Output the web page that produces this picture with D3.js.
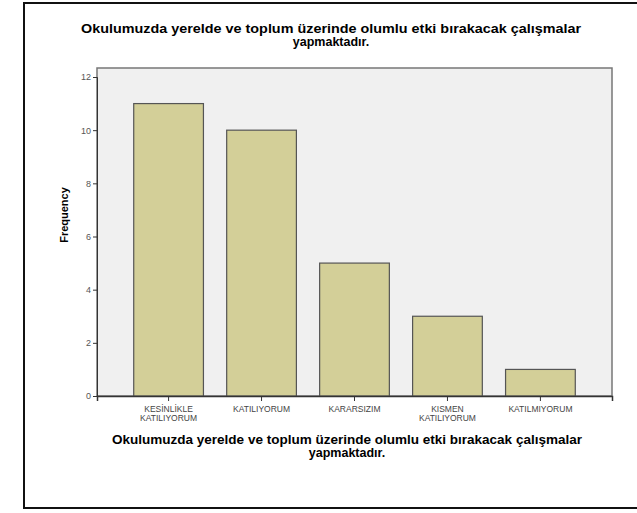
<html>
<head>
<meta charset="utf-8">
<script src="https://d3js.org/d3.v7.min.js"></script>
<style>
  body { margin: 0; background: white; font-family: "Liberation Sans", Arial, sans-serif; }
</style>
</head>
<body>
<script>
var categories = ["KESİNLİKLE KATILIYORUM", "KATILIYORUM", "KARARSIZIM", "KISMEN KATILIYORUM", "KATILMIYORUM"];
var catLines = [["KESİNLİKLE", "KATILIYORUM"], ["KATILIYORUM"], ["KARARSIZIM"], ["KISMEN", "KATILIYORUM"], ["KATILMIYORUM"]];
var frequencies = [11, 10, 5, 3, 1];
var yTicks = [0, 2, 4, 6, 8, 10, 12];
var titleLines = ["Okulumuzda yerelde ve toplum üzerinde olumlu etki bırakacak çalışmalar", "yapmaktadır."];

var width = 637, height = 513;
// plot box (note: "top" is reserved on window, so use plotTop)
var plotLeft = 97, plotRight = 612, plotTop = 68, plotBottom = 396;

var svg = d3.select("body").append("svg")
  .attr("width", width)
  .attr("height", height);

// outer frame
svg.append("rect")
  .attr("x", 24).attr("y", 3)
  .attr("width", 640).attr("height", 505)
  .attr("fill", "white")
  .attr("stroke", "#111")
  .attr("stroke-width", 2);

var x = d3.scaleBand()
  .domain(categories)
  .range([plotLeft, plotRight])
  .paddingInner(0.25)
  .paddingOuter(0.395);

var y = d3.scaleLinear()
  .domain([0, 12])
  .range([plotBottom, 77]);

// plot background
svg.append("rect")
  .attr("x", plotLeft).attr("y", plotTop)
  .attr("width", plotRight - plotLeft).attr("height", plotBottom - plotTop)
  .attr("fill", "#f0f0f0")
  .attr("stroke", "#777")
  .attr("stroke-width", 1.5);

svg.selectAll(".bar")
  .data(frequencies)
  .enter()
  .append("rect")
  .attr("class", "bar")
  .attr("x", function(d, i) { return x(categories[i]); })
  .attr("y", function(d) { return y(d); })
  .attr("width", x.bandwidth())
  .attr("height", function(d) { return y(0) - y(d); })
  .attr("fill", "#d3cf98")
  .attr("stroke", "#555")
  .attr("stroke-width", 1.2);

// y axis
var yAxis = svg.append("g")
  .attr("transform", "translate(" + plotLeft + ",0)")
  .call(d3.axisLeft(y).tickValues(yTicks).tickSize(4).tickPadding(2));
yAxis.select(".domain").attr("stroke", "#333");
yAxis.selectAll(".tick line").attr("stroke", "#333");
yAxis.selectAll("text").attr("fill", "#555").style("font-size", "9px");

// x axis
var xAxis = svg.append("g")
  .attr("transform", "translate(0," + plotBottom + ")")
  .call(d3.axisBottom(x).tickSize(5).tickFormat(""));
xAxis.select(".domain").attr("stroke", "#333").attr("stroke-width", 1.5);
xAxis.selectAll(".tick line").attr("stroke", "#333");

svg.selectAll(".xlab")
  .data(catLines)
  .enter()
  .append("text")
  .attr("class", "xlab")
  .attr("text-anchor", "middle")
  .attr("fill", "#444")
  .style("font-size", "8.5px")
  .attr("transform", function(d, i) {
    return "translate(" + (x(categories[i]) + x.bandwidth() / 2) + "," + (plotBottom + 16) + ")";
  })
  .selectAll("tspan")
  .data(function(d) { return d; })
  .enter()
  .append("tspan")
  .attr("x", 0)
  .attr("dy", function(d, i) { return i === 0 ? 0 : 9; })
  .text(function(d) { return d; });

function twoLineTitle(cx, cy, firstWidth) {
  svg.append("text")
    .attr("text-anchor", "middle")
    .attr("font-weight", "bold")
    .style("font-size", "12.5px")
    .attr("transform", "translate(" + cx + "," + cy + ")")
    .selectAll("tspan")
    .data(titleLines)
    .enter()
    .append("tspan")
    .attr("x", 0)
    .attr("dy", function(d, i) { return i === 0 ? 0 : 13; })
    .attr("textLength", function(d, i) { return i === 0 ? firstWidth : null; })
    .attr("lengthAdjust", "spacingAndGlyphs")
    .text(function(d) { return d; });
}

// chart title
twoLineTitle(331, 33, 500);
// x axis title
twoLineTitle(347, 444, 470);

// y axis title
svg.append("text")
  .attr("text-anchor", "middle")
  .attr("font-weight", "bold")
  .style("font-size", "11px")
  .attr("transform", "translate(68,215) rotate(-90)")
  .text("Frequency");
</script>
</body>
</html>
